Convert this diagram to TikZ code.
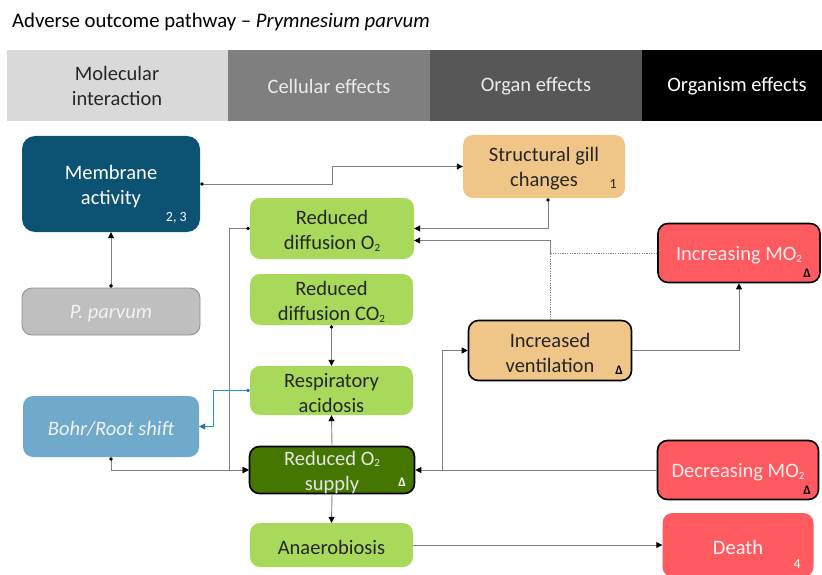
\documentclass[tikz,border=0pt]{standalone}
\usepackage{fontspec}
\setmainfont{Carlito}
\usetikzlibrary{arrows.meta,calc}
\definecolor{hdrA}{HTML}{D9D9D9}
\definecolor{hdrB}{HTML}{7F7F7F}
\definecolor{hdrC}{HTML}{575757}
\definecolor{memc}{HTML}{0B5273}
\definecolor{pparc}{HTML}{BFBFBF}
\definecolor{pparb}{HTML}{8C8C8C}
\definecolor{bohrc}{HTML}{6FAACB}
\definecolor{gillc}{HTML}{EFC687}
\definecolor{lgreen}{HTML}{A8D95A}
\definecolor{dgreen}{HTML}{457600}
\definecolor{redc}{HTML}{FF5A60}
\definecolor{linec}{HTML}{808080}
\definecolor{bluec}{HTML}{2A8ED6}
\definecolor{darktext}{HTML}{262626}
\newcommand{\subtwo}{\raisebox{-1.5pt}{\fontsize{11}{11}\selectfont 2}}
\tikzset{
  box/.style={rounded corners=10pt, inner sep=0pt},
  bold box/.style={box, draw=black, line width=1.6pt},
  txt/.style={yshift=-2.5pt, inner sep=0pt, align=center,
    font=\fontsize{20.5}{25}\selectfont},
  itxt/.style={txt, font=\fontsize{20.5}{25}\selectfont\itshape},
  hdr/.style={inner sep=0pt, align=center, font=\fontsize{20.5}{25}\selectfont},
  corner/.style={inner sep=0pt, font=\fontsize{14}{14}\selectfont},
  delta/.style={inner sep=0pt, font=\fontsize{13}{13}\selectfont\bfseries},
  conn/.style={draw=linec, line width=0.9pt},
  tip/.style={-{Triangle[length=6pt,width=6pt,black]}},
  dottip/.style={{Circle[length=3.5pt,black]}-{Triangle[length=6pt,width=6pt,black]}},
  bluetip/.style={{Circle[length=3.5pt,bluec!80!black]}-{Triangle[length=6pt,width=6pt,bluec!80!black]}},
  dotline/.style={draw=linec, line width=0.9pt, dash pattern=on 1.2pt off 1.2pt},
}
\begin{document}
\begin{tikzpicture}[x=1pt,y=-1pt]
\useasboundingbox (0,0) rectangle (822,575);
% title
\node[anchor=base west, inner sep=0pt, font=\fontsize{20.75}{24}\selectfont] (title) at (12,28)
  {Adverse outcome pathway -- \textit{Prymnesium parvum}};
% header
\fill[hdrA] (7,50) rectangle (228,121);
\fill[hdrB] (228,50) rectangle (430,121);
\fill[hdrC] (430,50) rectangle (642,121);
\fill[black] (642,50) rectangle (822,121);
\node[hdr, text=darktext] (h1) at (117,86) {Molecular\\interaction};
\node[hdr, text=white!92!black] (h2) at (329,86) {Cellular effects};
\node[hdr, text=white!92!black] (h3) at (536,86) {Organ effects};
\node[hdr, text=white] (h4) at (737,86) {Organism effects};
% nodes
\node[box, fill=memc, minimum width=178pt, minimum height=96pt, rounded corners=13pt,
  label={[txt, text=white]center:{Membrane\\activity}}] (mem) at (111,184) {};
\node[box, fill=pparc, draw=pparb, line width=0.8pt, minimum width=178pt, minimum height=47pt,
  label={[itxt, text=white!95!black]center:{P. parvum}}] (ppar) at (111,311.5) {};
\node[box, fill=bohrc, minimum width=176pt, minimum height=61pt,
  label={[itxt, text=white!95!black]center:{Bohr/Root shift}}] (bohr) at (111,426.5) {};
\node[box, fill=gillc, minimum width=162pt, minimum height=63pt,
  label={[txt, text=darktext]center:{Structural gill\\changes}}] (gill) at (544,166.5) {};
\node[box, fill=lgreen, minimum width=164pt, minimum height=61pt,
  label={[txt, text=darktext]center:{Reduced\\diffusion O\subtwo}}] (rdo) at (332,228.5) {};
\node[box, fill=lgreen, minimum width=163pt, minimum height=51pt,
  label={[txt, text=darktext]center:{Reduced\\diffusion CO\subtwo}}] (co2) at (331.5,299.5) {};
\node[box, fill=lgreen, minimum width=163pt, minimum height=49pt,
  label={[txt, text=darktext]center:{Respiratory\\acidosis}}] (resp) at (331.5,390.5) {};
\node[bold box, fill=dgreen, minimum width=165pt, minimum height=47pt,
  label={[txt, text=white!90!black]center:{Reduced O\subtwo\\supply}}] (rso) at (332,470) {};
\node[box, fill=lgreen, minimum width=163pt, minimum height=44pt,
  label={[txt, text=darktext]center:{Anaerobiosis}}] (anae) at (331.5,545) {};
\node[bold box, fill=gillc, minimum width=163pt, minimum height=60pt,
  label={[txt, text=darktext]center:{Increased\\ventilation}}] (vent) at (550,350.5) {};
\node[bold box, fill=redc, minimum width=162pt, minimum height=59pt,
  label={[txt, text=white!88!redc]center:{Increasing MO\subtwo}}] (imo) at (739,253) {};
\node[bold box, fill=redc, minimum width=161pt, minimum height=59pt,
  label={[txt, text=white!88!redc]center:{Decreasing MO\subtwo}}] (dmo) at (738,470) {};
\node[box, fill=redc, minimum width=151pt, minimum height=64pt,
  label={[txt, text=white!95!redc]center:{Death}}] (death) at (738,545) {};
% corner labels
\node[corner, anchor=base east, text=white] (m23) at (187,221) {2, 3};
\node[corner, anchor=base east, text=darktext] (g1) at (617,188) {1};
\node[corner, anchor=base east, text=white] (d4) at (801,568) {4};
\node[delta, anchor=base east, text=black] (dimo) at (811,277) {Δ};
\node[delta, anchor=base east, text=white] (drso) at (406,486) {Δ};
\node[delta, anchor=base east, text=black] (dvent) at (623,374) {Δ};
\node[delta, anchor=base east, text=black] (ddmo) at (811,494) {Δ};
% junctions
\coordinate (j1) at (vent.north |- imo.west);
\coordinate (j2) at (442,470);
% connectors
\draw[conn, dottip] (mem.east) -- ++(132,0) |- (gill.west);
\draw[conn, dottip] (ppar.north) -- (mem.south);
\draw[conn, dottip] ($(gill.south)+(4,0)$) |- (rdo.east);
\draw[conn, tip] (j1) |- ($(rdo.east)+(0,12)$);
\draw[dotline] (imo.west) -- (j1) -- (vent.north);
\draw[conn, dottip] (rdo.west) -- ++(-20,0) |- (rso.west);
\draw[conn, dottip] (bohr.south) |- (rso.west);
\draw[draw=bluec, line width=0.9pt, bluetip] (resp.west) -- ++(-36,0) |- (bohr.east);
\draw[conn, dottip] (co2.south) -- (resp.north);
\draw[conn, tip] (rso.north) -- (resp.south);
\draw[conn, tip] (rso.south) -- (anae.north);
\draw[conn, tip] (dmo.west) -- (rso.east);
\draw[conn, tip] (j2) |- (vent.west);
\draw[conn, tip] (vent.east) -| (imo.south);
\draw[conn, tip] (anae.east) -- (death.west);
\end{tikzpicture}
\end{document}
